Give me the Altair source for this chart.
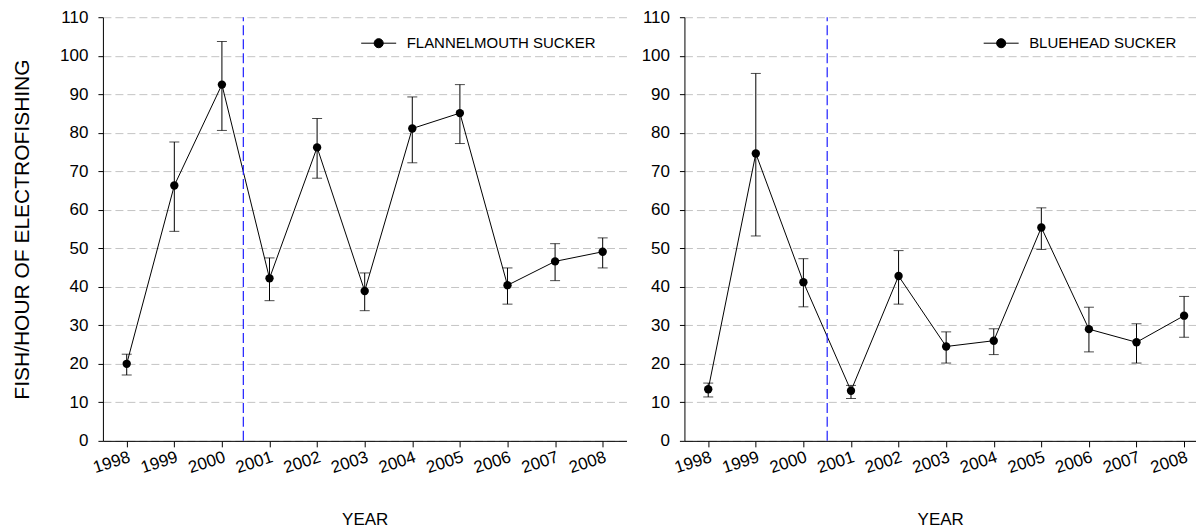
import altair as alt
import pandas as pd

years = list(range(1998, 2009))

flannel_mean = [20.0, 66.3, 92.5, 42.2, 76.2, 38.9, 81.1, 85.1, 40.4, 46.6, 49.1]
flannel_upper = [22.5, 77.6, 103.7, 47.5, 83.7, 43.6, 89.3, 92.5, 44.9, 51.2, 52.7]
flannel_lower = [17.1, 54.4, 80.6, 36.4, 68.2, 33.8, 72.2, 77.2, 35.5, 41.6, 44.9]

bluehead_mean = [13.4, 74.6, 41.2, 13.0, 42.8, 24.5, 26.0, 55.4, 29.0, 25.6, 32.5]
bluehead_upper = [15.0, 95.4, 47.3, 14.4, 49.4, 28.3, 29.1, 60.5, 34.7, 30.4, 37.5]
bluehead_lower = [11.4, 53.2, 34.8, 11.0, 35.5, 20.2, 22.4, 49.7, 23.1, 20.2, 26.9]

y_ticks = list(range(0, 111, 10))
FONT = "Liberation Sans"
# line through a dot, in unit coordinates, for the legend symbol
LEGEND_SYMBOL = "M-1,0L1,0M0.26,0A0.26,0.26,0,1,1,-0.26,0A0.26,0.26,0,1,1,0.26,0Z"


def panel(name, mean, lower, upper, cutoff, x_max, width, legend_x, y_title):
    df = pd.DataFrame(
        {"year": years, "mean": mean, "lower": lower, "upper": upper, "species": name}
    )
    x_scale = alt.Scale(domain=[1997.5, x_max], nice=False, zero=False)
    y_scale = alt.Scale(domain=[0, 110], nice=False)
    x_axis = alt.Axis(
        values=years,
        format="d",
        grid=False,
        tickSize=6,
        labelAngle=342,
        labelAlign="right",
        labelBaseline="top",
        labelFontSize=17,
        labelPadding=2,
        titleFontSize=17,
        titlePadding=36,
    )
    y_axis = alt.Axis(
        values=y_ticks,
        grid=True,
        gridColor="#c4c4c4",
        gridDash=[8, 4],
        tickSize=5,
        labelPadding=10,
        labelFontSize=17,
        labelOverlap=False,
        titleFontSize=21,
        titlePadding=27,
    )

    def xy(x_field, y_field):
        # every layer carries the same axis definitions so they merge cleanly
        return dict(
            x=alt.X(x_field, scale=x_scale, axis=x_axis, title="YEAR"),
            y=alt.Y(y_field, scale=y_scale, axis=y_axis, title=y_title),
        )

    base = alt.Chart(df)
    line = base.mark_line(color="black", strokeWidth=1).encode(**xy("year:Q", "mean:Q"))
    cutoff_line = (
        alt.Chart(pd.DataFrame({"x": [cutoff], "y": [0], "y2": [110]}))
        .mark_rule(color="#1f1fff", strokeDash=[10, 4], strokeWidth=1.2)
        .encode(y2="y2:Q", **xy("x:Q", "y:Q"))
    )
    bars = base.mark_rule(color="black", strokeWidth=1).encode(
        y2="upper:Q", **xy("year:Q", "lower:Q")
    )
    cap_hi = base.mark_tick(orient="horizontal", size=10, thickness=1, color="black").encode(
        **xy("year:Q", "upper:Q")
    )
    cap_lo = base.mark_tick(orient="horizontal", size=10, thickness=1, color="black").encode(
        **xy("year:Q", "lower:Q")
    )
    points = base.mark_point(filled=True, size=70, opacity=1).encode(
        color=alt.Color(
            "species:N",
            scale=alt.Scale(range=["black"]),
            legend=alt.Legend(
                orient="none",
                legendX=legend_x,
                legendY=8,
                title=None,
                padding=0,
                symbolType=LEGEND_SYMBOL,
                symbolSize=1225,
                symbolFillColor="black",
                symbolStrokeColor="black",
                symbolStrokeWidth=1,
                labelFontSize=15,
                labelOffset=10,
                labelLimit=400,
            ),
        ),
        **xy("year:Q", "mean:Q"),
    )
    return alt.layer(line, cutoff_line, bars, cap_hi, cap_lo, points).properties(
        width=width, height=424
    )


left = panel(
    "FLANNELMOUTH SUCKER", flannel_mean, flannel_lower, flannel_upper,
    2000.45, 2008.5, 524, 258, "FISH/HOUR OF ELECTROFISHING",
)
right = panel(
    "BLUEHEAD SUCKER", bluehead_mean, bluehead_lower, bluehead_upper,
    2000.5, 2008.25, 512, 299, None,
)

chart = (
    alt.hconcat(left, right, spacing=58, bounds="flush")
    .resolve_scale(x="independent", color="independent")
    .resolve_legend(color="independent")
    .properties(padding={"left": 3, "top": 0, "right": 0, "bottom": 0})
    .configure_view(stroke=None)
    .configure_axis(
        domainColor="black",
        tickColor="black",
        labelColor="black",
        titleColor="black",
        labelFont=FONT,
        titleFont=FONT,
        titleFontWeight="normal",
    )
    .configure_legend(labelFont=FONT, labelColor="black")
)

chart.save("out.html", embed_options={"renderer": "svg", "actions": False})
